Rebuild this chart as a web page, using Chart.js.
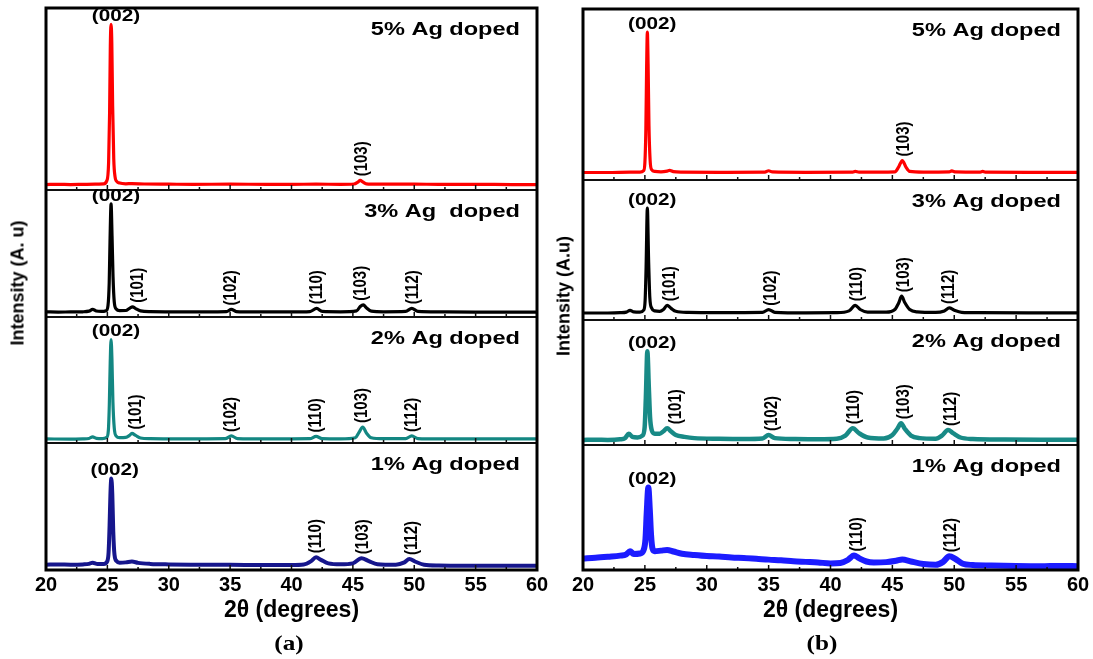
<!DOCTYPE html>
<html>
<head>
<meta charset="utf-8">
<script src="https://cdn.jsdelivr.net/npm/chart.js@4.4.0/dist/chart.umd.min.js"></script>
<style>
  body { margin: 0; background: #fff; width: 1093px; height: 659px; overflow: hidden; position: relative;
         font-family: 'Liberation Sans', Arial, sans-serif; }
  canvas { position: absolute; left: 0; top: 0; }
  .ytitle { position: absolute; font-weight: bold; font-size: 18px; white-space: nowrap; color: #000;
            transform: translate(-50%, -50%) rotate(-90deg); }
  .panel { position: absolute; font-family: 'Liberation Serif', 'Times New Roman', serif; font-weight: bold;
           font-size: 21px; color: #000; transform: translate(-50%, -50%) scaleX(1.2); }
</style>
</head>
<body>
<canvas id="chartA" width="1093" height="659"></canvas>
<canvas id="chartB" width="1093" height="659"></canvas>
<div class="ytitle" style="left:18px;top:283px">Intensity (A. u)</div>
<div class="ytitle" style="left:564px;top:296px">Intensity (A.u)</div>
<div class="panel" style="left:289px;top:643px">(a)</div>
<div class="panel" style="left:822px;top:643px">(b)</div>

<script>
const FONT = "'Liberation Sans', Arial, Helvetica, sans-serif";

const minorTicks = [22.5, 27.5, 32.5, 37.5, 42.5, 47.5, 52.5, 57.5];
const tagsA = ['5% Ag doped', '3% Ag  doped', '2% Ag doped', '1% Ag doped'];
const tagsB = ['5% Ag doped', '3% Ag doped', '2% Ag doped', '1% Ag doped'];

// XRD patterns, [2theta, intensity] with intensity in % of each layer
const patternA5 = [[20,3],[21,3.1],[22,3],[23,3.1],[24,3.2],[24.7,3.4],[24.95,5],[25.1,15],[25.18,42],[25.24,79],[25.3,91],[25.36,81],[25.43,46],[25.52,17],[25.62,7.5],[25.78,4.6],[26,3.8],[26.5,3.4],[27,3.5],[28,3.3],[30,3.2],[32,3.1],[35,3.2],[38,3.1],[40,3.1],[42,3.2],[44,3.1],[45.1,3.3],[45.4,4.3],[45.6,5.3],[45.8,4.5],[46.1,3.4],[47,3.2],[50,3.2],[52,3.1],[55,3.1],[58,3],[60,3]];
const patternA3 = [[20,4],[21,3.9],[22,4],[23,4.1],[23.5,4.6],[23.8,6],[24.1,4.7],[24.5,4.4],[24.9,5],[25.05,9],[25.15,27],[25.22,62],[25.3,89],[25.38,64],[25.46,32],[25.56,12],[25.72,6.3],[26,5],[26.5,5.1],[26.8,6.8],[27.05,8],[27.3,6.6],[27.7,4.8],[28.5,4.2],[30,4.1],[33,4],[34.7,4.2],[35.1,6],[35.5,4.3],[37,4],[40,4],[41.5,4.3],[42.05,6.8],[42.5,4.4],[44,4.1],[45.3,4.8],[45.6,8.3],[45.85,9.6],[46.1,7.3],[46.5,4.6],[47.5,4.1],[49.3,4.4],[49.8,6.8],[50.3,4.4],[52,4],[55,3.9],[58,3.9],[60,3.9]];
const patternA2 = [[20,3.2],[22,3.1],[23,3.3],[23.5,3.6],[23.8,4.8],[24.1,3.7],[24.6,3.5],[24.95,4.5],[25.08,10],[25.16,31],[25.23,63],[25.3,82],[25.37,67],[25.45,33],[25.56,12],[25.72,5.5],[26,4.2],[26.5,4.4],[26.8,6],[27,7.6],[27.3,6],[27.7,4],[28.5,3.4],[31,3.2],[34.6,3.4],[35.1,5.6],[35.6,3.5],[38,3.2],[41.5,3.4],[42,5.2],[42.5,3.5],[44,3.3],[45.2,4.2],[45.5,8.5],[45.8,12.7],[46.1,8],[46.5,4.2],[47.5,3.4],[49.3,3.5],[49.8,5.6],[50.3,3.5],[52,3.2],[56,3.2],[60,3.2]];
const patternA1 = [[20,4.2],[21,4.3],[22,4.2],[23,4.4],[23.5,4.8],[23.8,5.8],[24.2,4.8],[24.7,4.8],[25,7],[25.1,14],[25.18,35],[25.25,60],[25.32,72],[25.4,60],[25.48,30],[25.58,12],[25.75,7],[26,5.8],[26.5,6],[27,6.6],[27.5,5.6],[28.5,4.8],[30,4.4],[32,4.2],[35,4.1],[38,3.9],[40,3.9],[41,4.3],[41.6,7],[42,10],[42.4,8],[43,5.2],[44,4.5],[45,5.2],[45.7,9.3],[46.3,7],[47,4.6],[48.5,4.2],[49.2,6],[49.6,8.6],[50.1,6.5],[50.8,4.2],[52,3.6],[55,3.4],[58,3.3],[60,3.3]];

const patternB5 = [[20,4.4],[22,4.4],[23.8,4.6],[24.6,4.6],[24.9,5.5],[25,10],[25.08,30],[25.14,65],[25.2,86.5],[25.26,68],[25.33,32],[25.42,12],[25.55,6],[25.8,5],[26.3,4.8],[26.8,5.2],[27,5.6],[27.3,4.9],[28,4.6],[31,4.5],[34.7,4.6],[35,5.4],[35.3,4.7],[38,4.5],[41.8,4.6],[42,5],[42.3,4.6],[45.2,4.8],[45.5,7.5],[45.8,11.4],[46.1,7.5],[46.4,5],[47.5,4.6],[49.6,4.7],[49.8,5.3],[50.1,4.7],[52.1,4.6],[52.3,5],[52.5,4.6],[56,4.5],[60,4.5]];
const patternB3 = [[20,5],[22,5],[23,5.2],[23.5,5.6],[23.8,6.9],[24.1,5.8],[24.6,5.6],[24.9,7],[25.02,14],[25.1,38],[25.2,80],[25.3,43],[25.4,16],[25.55,8.5],[25.8,6.5],[26.2,6.2],[26.5,7.5],[26.8,10.5],[27.1,8.5],[27.5,6.2],[28.5,5.4],[31,5.2],[34.5,5.4],[35,7.4],[35.5,5.5],[38,5.1],[40.5,5.2],[41.5,6.5],[42,10.5],[42.4,7.5],[43,5.6],[44.5,5.6],[45.2,7.5],[45.5,12],[45.75,17],[46,12.5],[46.4,7.5],[47,5.8],[48.5,5.4],[49.2,6.5],[49.6,8.6],[50,7],[50.6,5.5],[52,5.2],[56,5.1],[60,5.1]];
const patternB2 = [[20,4],[21,4.3],[22,4.1],[23,4.6],[23.4,5.5],[23.7,9],[24,6.5],[24.4,6],[24.8,7.5],[24.98,14],[25.08,38],[25.2,75],[25.32,46],[25.42,22],[25.55,12],[25.8,9],[26.2,9],[26.5,11],[26.8,13.4],[27.1,11],[27.5,8],[28.2,6.5],[29,5.5],[31,5],[33,4.8],[34.5,5.2],[35,8],[35.5,5.5],[37,4.8],[39,4.6],[40.5,5],[41.2,7.5],[41.8,13.4],[42.3,9.5],[43,6],[44.3,5.2],[45,8],[45.4,13],[45.7,17.4],[46,13],[46.5,7.5],[47.2,5.5],[48.5,5],[49,7.5],[49.5,12],[49.9,9.5],[50.5,6],[51.5,4.8],[54,4.4],[57,4.3],[60,4.3]];
const patternB1 = [[20,9.2],[21,9.8],[22,10.6],[23,11.5],[23.5,12.5],[23.8,15],[24.1,12.8],[24.6,13.2],[24.9,16],[25.05,25],[25.15,46],[25.28,66],[25.4,48],[25.5,28],[25.62,17],[25.8,15],[26.3,15.5],[26.8,16],[27.3,14.8],[28,13],[29,12],[30,11.2],[31,10.8],[32,10],[33,9.6],[34,9],[35,8.3],[36,7.8],[37,7],[38,6.5],[39,6],[40,5.3],[40.8,5.6],[41.4,8],[41.9,11.7],[42.3,9.5],[42.9,6.8],[43.5,6],[44.5,6.3],[45.3,7.4],[45.8,8.4],[46.5,6.8],[47.5,4.8],[48.5,4.2],[49.1,6.5],[49.6,11],[50.1,8.8],[50.7,5],[51.5,4],[53,3.6],[55,3.2],[57,3],[58.5,3.3],[60,3]];

// peak labels: [hkl, 2theta where the label sits]; the first one is the main peak
const peaksA5 = [['(002)', 25.7], ['(103)', 45.75]];
const peaksA3 = [['(002)', 25.7], ['(101)', 27.5], ['(102)', 35.1], ['(110)', 42.1], ['(103)', 45.65], ['(112)', 49.9]];
const peaksA2 = [['(002)', 25.7], ['(101)', 27.3], ['(102)', 35.1], ['(110)', 42.0], ['(103)', 45.7], ['(112)', 49.8]];
const peaksA1 = [['(002)', 25.6], ['(110)', 42.0], ['(103)', 45.8], ['(112)', 49.8]];
const peaksB5 = [['(002)', 25.6], ['(103)', 45.9]];
const peaksB3 = [['(002)', 25.6], ['(101)', 27.05], ['(102)', 35.2], ['(110)', 42.1], ['(103)', 45.9], ['(112)', 49.6]];
const peaksB2 = [['(002)', 25.6], ['(101)', 27.5], ['(102)', 35.3], ['(110)', 41.9], ['(103)', 45.9], ['(112)', 49.7]];
const peaksB1 = [['(002)', 25.6], ['(110)', 42.1], ['(112)', 49.7]];

const seriesA = [
    { id: 'a5', tag: tagsA[0], points: patternA5, peaks: peaksA5, color: '#ff0000', width: 3.2, weight: 182 },
    { id: 'a3', tag: tagsA[1], points: patternA3, peaks: peaksA3, color: '#000000', width: 3.2, weight: 127 },
    { id: 'a2', tag: tagsA[2], points: patternA2, peaks: peaksA2, color: '#138782', width: 3.2, weight: 126 },
    { id: 'a1', tag: tagsA[3], points: patternA1, peaks: peaksA1, color: '#16168c', width: 4, weight: 127 }
];
const seriesB = [
    { id: 'b5', tag: tagsB[0], points: patternB5, peaks: peaksB5, color: '#ff0000', width: 3.2, weight: 171 },
    { id: 'b3', tag: tagsB[1], points: patternB3, peaks: peaksB3, color: '#000000', width: 3.2, weight: 140 },
    { id: 'b2', tag: tagsB[2], points: patternB2, peaks: peaksB2, color: '#188a86', width: 4.5, weight: 125 },
    { id: 'b1', tag: tagsB[3], points: patternB1, peaks: peaksB1, color: '#1c1cff', width: 6, weight: 125 }
];

function drawText(ctx, text, x, y, font, align, baseline, sx) {
    ctx.save();
    ctx.font = font;
    ctx.textAlign = align;
    ctx.textBaseline = baseline;
    ctx.translate(x, y);
    ctx.scale(sx, 1);
    ctx.fillText(text, 0, 0);
    ctx.restore();
}

function peakTop(points, pos) {
    let top = 0;
    points.forEach(([x, y]) => { if (Math.abs(x - pos) <= 0.75 && y > top) top = y; });
    return top;
}

// frame, layer dividers, inward ticks and the text inside each layer
function xrdFrame(series) {
    return {
        id: 'xrdFrame',
        afterDraw(chart) {
            const { ctx, chartArea: area } = chart;
            const xs = chart.scales.x;
            const seg = (x1, y1, x2, y2) => { ctx.beginPath(); ctx.moveTo(x1, y1); ctx.lineTo(x2, y2); ctx.stroke(); };
            ctx.save();
            ctx.strokeStyle = '#111';
            ctx.fillStyle = '#000';
            series.forEach((s, i) => {
                const ys = chart.scales[s.id];
                const base = ys.bottom;
                if (i < series.length - 1) {
                    ctx.lineWidth = 2;
                    seg(area.left, base, area.right, base);
                }
                ctx.lineWidth = 1.5;
                xs.ticks.forEach(t => {
                    if (t.value > xs.min && t.value < xs.max) {
                        const px = xs.getPixelForValue(t.value);
                        seg(px, base, px, base - 5);
                    }
                });
                minorTicks.forEach(v => {
                    const px = xs.getPixelForValue(v);
                    seg(px, base, px, base - 3);
                });

                drawText(ctx, s.tag, area.right - 17, ys.top + 22, 'bold 19px ' + FONT, 'right', 'middle', 1.24);

                s.peaks.forEach(([hkl, pos], k) => {
                    const px = xs.getPixelForValue(pos);
                    const py = ys.getPixelForValue(peakTop(s.points, pos));
                    if (k === 0) {
                        drawText(ctx, hkl, px, py - 8, 'bold 17px ' + FONT, 'center', 'middle', 1.22);
                    } else {
                        ctx.save();
                        ctx.translate(px, py - 4);
                        ctx.rotate(-Math.PI / 2);
                        ctx.scale(1, 1.22);
                        ctx.font = 'bold 15px ' + FONT;
                        ctx.textAlign = 'left';
                        ctx.textBaseline = 'middle';
                        ctx.fillText(hkl, 0, 0);
                        ctx.restore();
                    }
                });
            });
            ctx.lineWidth = 3;
            ctx.strokeStyle = '#000';
            ctx.strokeRect(area.left, area.top, area.width, area.height);
            ctx.restore();
        }
    };
}

function createPanel(canvasId, series, padding) {
    const scales = {
        x: {
            type: 'linear',
            position: 'bottom',
            min: 20,
            max: 60,
            ticks: { stepSize: 5, padding: 3, color: '#000', font: { family: FONT, size: 20, weight: 'bold' } },
            grid: { display: false, drawTicks: false },
            border: { display: false },
            title: {
                display: true,
                text: '2θ (degrees)',
                color: '#000',
                font: { family: FONT, size: 23, weight: 'bold' },
                padding: { top: 0, bottom: 8 }
            },
            afterFit(scale) {
                scale.height = 62;
                scale.paddingLeft = 0;
                scale.paddingRight = 0;
            }
        }
    };
    series.forEach(s => {
        scales[s.id] = { type: 'linear', position: 'right', stack: canvasId, stackWeight: s.weight,
                         min: 0, max: 100, display: false };
    });

    const datasets = series.map(s => ({
        label: s.tag,
        data: s.points.map(([x, y]) => ({ x, y })),
        xAxisID: 'x',
        yAxisID: s.id,
        borderColor: s.color,
        borderWidth: s.width,
        pointRadius: 0,
        fill: false,
        cubicInterpolationMode: 'monotone',
        borderJoinStyle: 'round',
        borderCapStyle: 'round'
    }));

    new Chart(document.getElementById(canvasId), {
        type: 'line',
        data: { datasets: datasets },
        options: {
            responsive: false,
            animation: false,
            events: [],
            layout: { padding: padding },
            plugins: { legend: { display: false }, tooltip: { enabled: false } },
            scales: scales
        },
        plugins: [xrdFrame(series)]
    });
}

createPanel('chartA', seriesA, { left: 46, right: 556, top: 8, bottom: 27 });
createPanel('chartB', seriesB, { left: 583, right: 15, top: 9, bottom: 27 });
</script>
</body>
</html>
